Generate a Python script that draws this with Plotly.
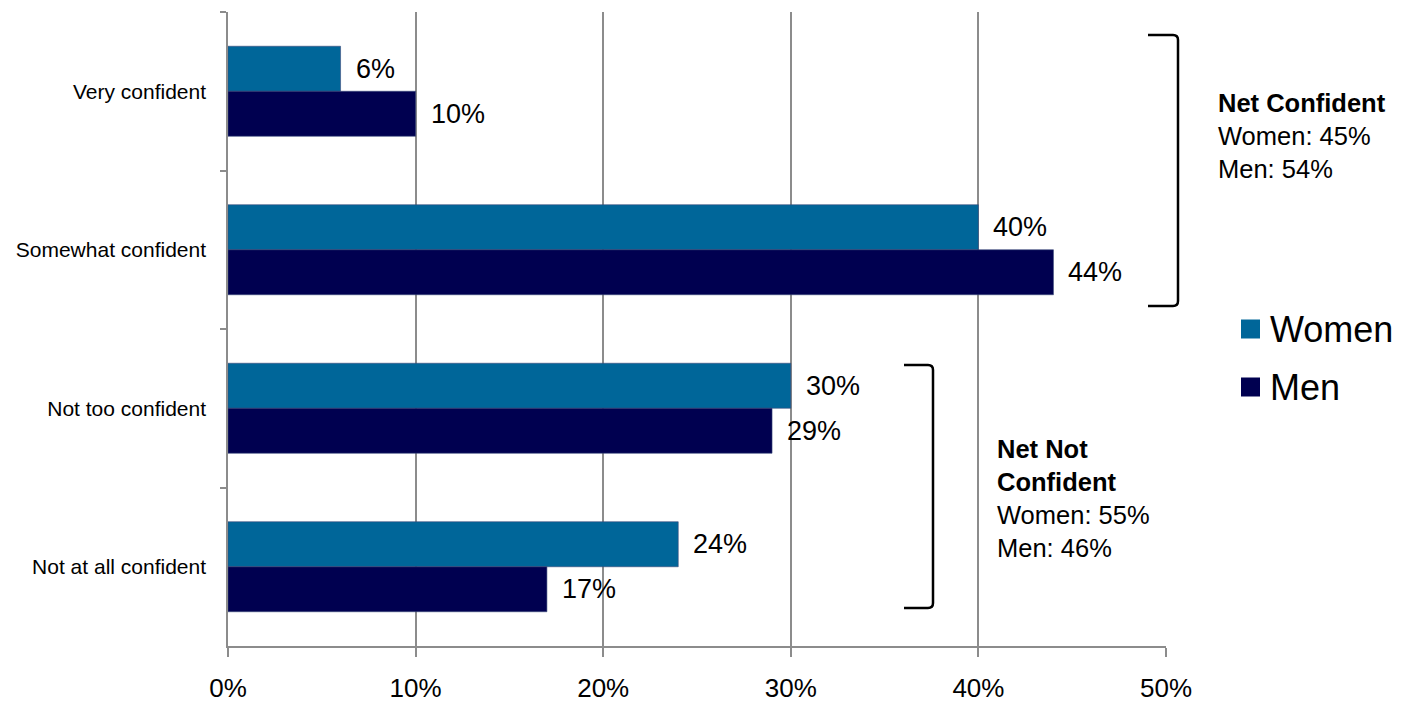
import plotly.graph_objects as go

# Survey responses by gender (percent)
categories = ["Very confident", "Somewhat confident", "Not too confident", "Not at all confident"]
women = [6, 40, 30, 24]
men = [10, 44, 29, 17]
series_names = ["Women", "Men"]
series_colors = ["#006699", "#000050"]
x_ticks = [0, 10, 20, 30, 40, 50]

net_conf = {"Women": 45, "Men": 54}
net_not_conf = {"Women": 55, "Men": 46}

W, H = 1401, 702
L, R, T, B = 228, 235, 12, 56
PW, PH = W - L - R, H - T - B


def px(xp):
    return (xp - L) / PW


def py(yp):
    return (H - B - yp) / PH


fig = go.Figure()
for name, vals, col in zip(series_names, [women, men], series_colors):
    fig.add_trace(go.Bar(
        y=categories, x=vals, name=name, orientation="h",
        marker=dict(color=col, line=dict(color="#3a4a7a", width=0.6)),
        showlegend=False,
    ))

font = "Liberation Sans, Arial, sans-serif"
annotations = []
# value labels beside each bar
for vals, shift in [(women, 22.5), (men, -22.5)]:
    for cat, v in zip(categories, vals):
        annotations.append(dict(
            x=v, y=cat, xref="x", yref="y", text=f"{v}%", showarrow=False,
            xanchor="left", yanchor="middle", xshift=13, yshift=shift,
            font=dict(family=font, size=27, color="#000000"),
        ))

annotations.append(dict(
    x=px(1216), y=py(136), xref="paper", yref="paper", showarrow=False,
    xanchor="left", yanchor="middle", align="left",
    text=f"<b>Net Confident</b><br>Women: {net_conf['Women']}%<br>Men: {net_conf['Men']}%",
    font=dict(family=font, size=25.5, color="#000000"),
))
annotations.append(dict(
    x=px(995), y=py(498), xref="paper", yref="paper", showarrow=False,
    xanchor="left", yanchor="middle", align="left",
    text=f"<b>Net Not<br>Confident</b><br>Women: {net_not_conf['Women']}%<br>Men: {net_not_conf['Men']}%",
    font=dict(family=font, size=25.5, color="#000000"),
))

# legend entries
shapes = []
for name, col, yc in zip(series_names, series_colors, [329, 387]):
    shapes.append(dict(type="rect", xref="paper", yref="paper",
                       x0=px(1241), x1=px(1260), y0=py(yc - 9.5), y1=py(yc + 9.5),
                       fillcolor=col, line=dict(width=0)))
    annotations.append(dict(
        x=px(1268), y=py(yc), xref="paper", yref="paper", showarrow=False,
        xanchor="left", yanchor="middle", text=name,
        font=dict(family=font, size=36, color="#000000"),
    ))


def bracket(x0, x1, y0, y1, r=5):
    a, b = px(x0), px(x1)
    rx = r / PW
    ry = r / PH
    top, bot = py(y0), py(y1)
    return (f"M{a},{top} L{b - rx},{top} Q{b},{top} {b},{top - ry} "
            f"L{b},{bot + ry} Q{b},{bot} {b - rx},{bot} L{a},{bot}")


for args in [(1148, 1178, 35, 306), (904, 933, 365, 608)]:
    shapes.append(dict(type="path", xref="paper", yref="paper",
                       path=bracket(*args), line=dict(color="#000000", width=2.5)))

fig.update_layout(
    width=W, height=H,
    margin=dict(l=L, r=R, t=T, b=B, pad=0),
    barmode="group", bargap=0.432, bargroupgap=0,
    plot_bgcolor="#ffffff", paper_bgcolor="#ffffff",
    annotations=annotations, shapes=shapes,
    showlegend=False,
    xaxis=dict(
        range=[0, 50], tickvals=x_ticks, ticktext=[f"{t}%" for t in x_ticks],
        showgrid=True, gridcolor="#8c8c8c", gridwidth=1.5,
        showline=True, linecolor="#8c8c8c", linewidth=1.5,
        ticks="outside", ticklen=9, tickcolor="#8c8c8c", tickwidth=1.5,
        tickfont=dict(family=font, size=26, color="#000000"),
        ticklabelstandoff=9, zeroline=False, fixedrange=True, automargin=False,
    ),
    yaxis=dict(
        autorange="reversed", categoryorder="array", categoryarray=categories,
        showgrid=False, showline=True, linecolor="#8c8c8c", linewidth=1.5,
        ticks="outside", ticklen=6, tickcolor="#8c8c8c", tickwidth=1.5,
        tickson="boundaries",
        tickfont=dict(family=font, size=21, color="#000000"),
        ticklabelstandoff=16, fixedrange=True, automargin=False,
    ),
)

fig.write_html("out.html")
